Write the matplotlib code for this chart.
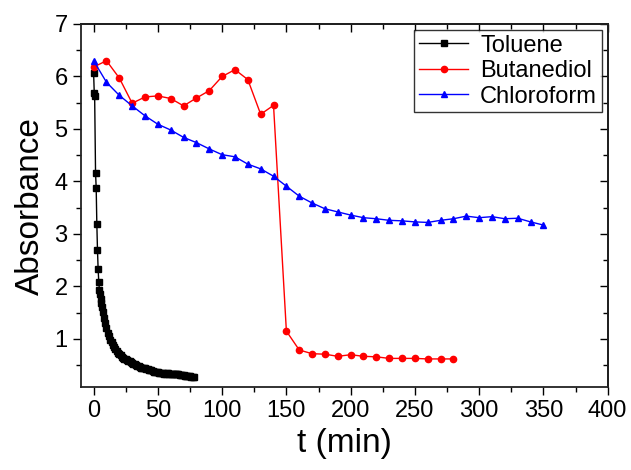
import matplotlib
matplotlib.use('Agg')
import matplotlib.pyplot as plt
from matplotlib.ticker import MultipleLocator

plt.rcParams['font.family'] = ['Liberation Sans', 'DejaVu Sans']

# Toluene (black squares)
tol_t = [0, 0.5, 0.8, 1.5, 2, 2.5, 3, 3.5, 4, 4.5, 5, 5.5, 6, 6.5, 7, 8, 9, 10,
         11, 12, 13, 14, 15, 16, 17, 18, 19, 20, 21, 22, 23, 24, 25, 26, 27, 28,
         29, 30, 31, 32, 33, 34, 35, 36, 37, 38, 39, 40, 41, 42, 43, 44, 45, 46,
         47, 48, 49, 50, 51, 52, 53, 54, 55, 56, 57, 58, 59, 60, 61, 62, 63, 64,
         65, 66, 67, 68, 69, 70, 71, 72, 73, 74, 75, 76, 77, 78]
tol_a = [6.06, 5.68, 5.63, 4.16, 3.88, 3.19, 2.70, 2.34, 2.09, 1.94, 1.85, 1.76,
         1.68, 1.60, 1.52, 1.40, 1.30, 1.21, 1.12, 1.05, 0.99, 0.94, 0.89, 0.85,
         0.81, 0.77, 0.74, 0.71, 0.69, 0.66, 0.64, 0.62, 0.61, 0.60, 0.59, 0.58,
         0.56, 0.55, 0.53, 0.52, 0.50, 0.49, 0.48, 0.46, 0.45, 0.45, 0.44, 0.44,
         0.43, 0.42, 0.41, 0.41, 0.40, 0.39, 0.38, 0.38, 0.37, 0.37, 0.36, 0.36,
         0.35, 0.35, 0.34, 0.34, 0.35, 0.35, 0.34, 0.34, 0.34, 0.34, 0.33, 0.33,
         0.33, 0.33, 0.32, 0.32, 0.31, 0.31, 0.30, 0.30, 0.30, 0.29, 0.29, 0.28,
         0.28, 0.27]

# Butanediol (red circles)
but_t = [0, 10, 20, 30, 40, 50, 60, 70, 80, 90, 100, 110, 120, 130, 140, 150,
         160, 170, 180, 190, 200, 210, 220, 230, 240, 250, 260, 270, 280]
but_a = [6.18, 6.30, 5.97, 5.49, 5.61, 5.63, 5.58, 5.44, 5.59, 5.73, 6.00, 6.13,
         5.94, 5.28, 5.45, 1.15, 0.79, 0.72, 0.71, 0.67, 0.70, 0.67, 0.66, 0.63,
         0.63, 0.63, 0.62, 0.62, 0.62]

# Chloroform (blue triangles)
chl_t = [0, 10, 20, 30, 40, 50, 60, 70, 80, 90, 100, 110, 120, 130, 140, 150,
         160, 170, 180, 190, 200, 210, 220, 230, 240, 250, 260, 270, 280, 290,
         300, 310, 320, 330, 340, 350]
chl_a = [6.30, 5.89, 5.64, 5.44, 5.25, 5.09, 4.98, 4.84, 4.74, 4.62, 4.51, 4.47,
         4.33, 4.24, 4.10, 3.91, 3.72, 3.59, 3.48, 3.42, 3.36, 3.31, 3.29, 3.26,
         3.25, 3.23, 3.22, 3.26, 3.29, 3.34, 3.31, 3.33, 3.29, 3.30, 3.23, 3.17]

fig = plt.figure(figsize=(6.31, 4.70), dpi=100)
ax = fig.add_axes([0.128, 0.176, 0.835, 0.773])

ax.plot(tol_t, tol_a, color='black', lw=1, marker='s', ms=4.2, label='Toluene')
ax.plot(but_t, but_a, color='red', lw=1, marker='o', ms=4.5, label='Butanediol')
ax.plot(chl_t, chl_a, color='blue', lw=1, marker='^', ms=5, label='Chloroform')

ax.set_xlim(-10, 400)
ax.set_ylim(0.08, 7)
ax.xaxis.set_major_locator(MultipleLocator(50))
ax.xaxis.set_minor_locator(MultipleLocator(25))
ax.yaxis.set_major_locator(MultipleLocator(1))
ax.yaxis.set_minor_locator(MultipleLocator(0.5))
ax.set_yticks([1, 2, 3, 4, 5, 6, 7])

ax.tick_params(which='both', direction='out', top=False, right=False,
               labelsize=17, width=1)
ax.tick_params(which='major', length=6)
ax.tick_params(which='minor', length=3.5)

# inward ticks on the top and right spines
sec_x = ax.secondary_xaxis('top')
sec_x.xaxis.set_major_locator(MultipleLocator(50))
sec_x.xaxis.set_minor_locator(MultipleLocator(25))
sec_x.tick_params(which='both', direction='in', labeltop=False, width=1)
sec_x.tick_params(which='major', length=6)
sec_x.tick_params(which='minor', length=3.5)
sec_y = ax.secondary_yaxis('right')
sec_y.yaxis.set_major_locator(MultipleLocator(1))
sec_y.yaxis.set_minor_locator(MultipleLocator(0.5))
sec_y.tick_params(which='both', direction='in', labelright=False, width=1)
sec_y.tick_params(which='major', length=6)
sec_y.tick_params(which='minor', length=3.5)
sec_x.spines['top'].set_linewidth(1.3)
sec_y.spines['right'].set_linewidth(1.3)

for s in ax.spines.values():
    s.set_linewidth(1.3)
    s.set_color('#222222')

ax.set_xlabel('t (min)', fontsize=24, labelpad=4)
ax.set_ylabel('Absorbance', fontsize=24, labelpad=6)

leg = ax.legend(loc='upper right', fontsize=17, frameon=True, fancybox=False,
                edgecolor='black', borderaxespad=0.25, handlelength=2.1,
                borderpad=0.2, labelspacing=0.15, handletextpad=0.5)
leg.get_frame().set_linewidth(1)

fig.savefig('out.png', dpi=100)
